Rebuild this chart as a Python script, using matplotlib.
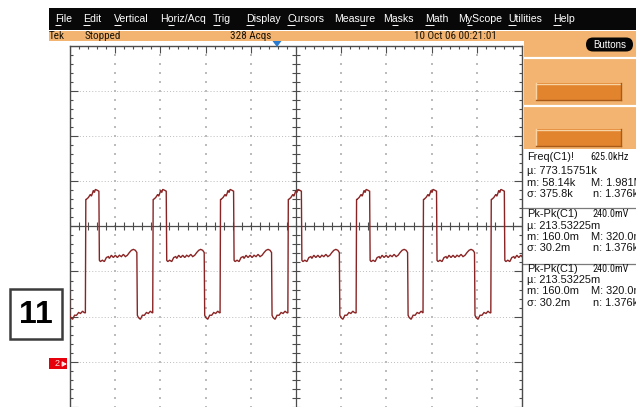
import numpy as np
import matplotlib
matplotlib.use("Agg")
import matplotlib.pyplot as plt
from matplotlib import font_manager as fm
from matplotlib.patches import Rectangle, FancyBboxPatch, Polygon
from matplotlib.collections import LineCollection

# ---------------- waveform data (divisions) ----------------
# one acquired cycle: time after the rising edge, level in divisions
cycle_t = [0.000, 0.010, 0.022, 0.066, 0.111, 0.133, 0.155, 0.177, 0.199, 0.221,
           0.265, 0.299, 0.310, 0.332, 0.376, 0.420, 0.465, 0.509, 0.531, 0.575,
           0.619, 0.664, 0.708, 0.752, 0.796, 0.841, 0.885, 0.929, 0.973, 1.018,
           1.062, 1.106, 1.139, 1.150, 1.173, 1.217, 1.261, 1.305, 1.350, 1.394,
           1.438, 1.471]
cycle_v = [-1.92, 0.60, 0.60, 0.64, 0.71, 0.67, 0.73, 0.80, 0.75, 0.82,
           0.80, 0.78, -0.75, -0.78, -0.75, -0.78, -0.69, -0.67, -0.71, -0.64,
           -0.69, -0.64, -0.69, -0.64, -0.67, -0.62, -0.67, -0.64, -0.58, -0.53,
           -0.51, -0.53, -0.58, -1.97, -2.02, -2.06, -1.97, -1.97, -1.91, -1.93,
           -1.88, -1.91]
# rising-edge times on screen (divisions from centre)
rise_times = [-6.16, -4.66, -3.17, -1.68, -0.18, 1.33, 2.81, 4.31]

# ---------------- screen texts ----------------
menu_items = ["File", "Edit", "Vertical", "Horiz/Acq", "Trig", "Display", "Cursors",
              "Measure", "Masks", "Math", "MyScope", "Utilities", "Help"]
menu_hotkey = [0, 0, 0, 1, 0, 0, 0, 4, 1, 0, 1, 0, 0]
status_texts = ["Tek", "Stopped", "328 Acqs", "10 Oct 06 00:21:01"]
meas_titles = ["Freq(C1)!", "Pk-Pk(C1)", "Pk-Pk(C1)"]
meas_values = ["625.0kHz", "240.0mV", "240.0mV"]
meas_stats = [
    [("\u00b5: 773.15751k", ""), ("m: 58.14k", "M: 1.981M"), ("\u03c3: 375.8k", "n: 1.376k")],
    [("\u00b5: 213.53225m", ""), ("m: 160.0m", "M: 320.0m"), ("\u03c3: 30.2m", "n: 1.376k")],
    [("\u00b5: 213.53225m", ""), ("m: 160.0m", "M: 320.0m"), ("\u03c3: 30.2m", "n: 1.376k")],
]
badge_text = "11"
channel_marker = "2"

# ---------------- layout (pixels) ----------------
W, H, DPI = 636, 407, 100
menu_x = [55, 83, 114, 160, 213, 246, 287, 334, 383, 425, 458, 508, 553]
status_x = [49, 85, 230, 414]
stat_x_left, stat_x_right = 527, [591, 591, 593]
block_y = [[157, 170.5, 182.5, 194], [214, 226, 237, 248], [269, 280, 291.5, 303]]
PX = 1 / 45.2  # one pixel in divisions

SANS = "Liberation Sans"


def narrow_font():
    """Pick a condensed sans face if one is installed."""
    names = {f.name for f in fm.fontManager.ttflist}
    for fam in ("Liberation Sans Narrow", "DejaVu Sans Condensed", "Roboto Condensed",
                "Noto Sans Condensed", "Open Sans Condensed"):
        if fam in names:
            return fm.FontProperties(family=fam)
    for f in fm.fontManager.ttflist:
        if (f.stretch in ("condensed", "semi-condensed") and f.style == "normal"
                and f.weight in (400, "normal", "regular")
                and f.name.startswith(("Liberation", "DejaVu Sans", "Noto Sans", "Roboto",
                                       "Open Sans"))
                and "Mono" not in f.name and "CJK" not in f.name):
            return fm.FontProperties(fname=f.fname)
    return None


NARROW_FP = narrow_font()


def narrow_props(size_narrow, size_plain):
    if NARROW_FP is not None:
        fp = NARROW_FP.copy()
        fp.set_size(size_narrow)
        return fp
    return fm.FontProperties(family=SANS, size=size_plain)


fig = plt.figure(figsize=(W / DPI, H / DPI), dpi=DPI, facecolor="white")

# background layer in pixel coordinates
ui = fig.add_axes([0, 0, 1, 1], zorder=0)
ui.set_xlim(0, W)
ui.set_ylim(H, 0)
ui.axis("off")

ORANGE = "#f2b470"
BTN = "#e2842e"

# menu bar
ui.add_patch(Rectangle((49, 8), W - 49, 22, facecolor="#080808", edgecolor="none"))
renderer = fig.canvas.get_renderer()
menu_fp = fm.FontProperties(family=SANS, size=7.6)
for label, x, k in zip(menu_items, menu_x, menu_hotkey):
    ui.text(x, 19.5, label, color="white", fontproperties=menu_fp, va="center", ha="left")
    x0 = renderer.get_text_width_height_descent(label[:k], menu_fp, ismath=False)[0] if k else 0
    x1 = renderer.get_text_width_height_descent(label[:k + 1], menu_fp, ismath=False)[0]
    ui.plot([x + x0, x + x1], [25.2, 25.2], color="white", lw=0.7, solid_capstyle="butt")

# status bar and right-hand control panel
ui.add_patch(Rectangle((49, 31), W - 49, 9.5, facecolor=ORANGE, edgecolor="none"))
ui.add_patch(Rectangle((524, 31), W - 524, 118, facecolor=ORANGE, edgecolor="none"))
status_fp = narrow_props(8.0, 6.8)
for label, x in zip(status_texts, status_x):
    ui.text(x, 35.8, label, color="#1c1408", fontproperties=status_fp,
            va="center", ha="left")
for y in (58, 106):
    ui.plot([524, W], [y, y], color="white", lw=1.6)
for y in (83, 129):
    ui.add_patch(Rectangle((536, y), 85, 17, facecolor=BTN, edgecolor="none"))
    ui.plot([536, 621], [y + 0.5, y + 0.5], color="#f8d3a4", lw=1.0)
    ui.plot([536, 536], [y, y + 17], color="#f8d3a4", lw=1.0)
    ui.plot([536, 621], [y + 17, y + 17], color="#a85a16", lw=1.0)
    ui.plot([621, 621], [y, y + 17], color="#a85a16", lw=1.0)
ui.add_patch(FancyBboxPatch((586, 37.5), 47, 14, boxstyle="round,pad=0,rounding_size=7",
                            facecolor="#050505", edgecolor="none"))
ui.text(609.5, 44.6, "Buttons", color="white", family=SANS, fontsize=7.0,
        va="center", ha="center")

# measurement readouts
meas_fp = fm.FontProperties(family=SANS, size=7.9)
value_fp = narrow_props(7.4, 6.8)
INK = "#141414"
for title, value, stats, ys in zip(meas_titles, meas_values, meas_stats, block_y):
    ui.text(stat_x_left, ys[0], title, color=INK, fontproperties=meas_fp, va="center")
    ui.text(629, ys[0], value, color=INK, fontproperties=value_fp, va="center", ha="right")
    for (left, right), y, xr in zip(stats, ys[1:], stat_x_right):
        ui.text(stat_x_left, y, left, color=INK, fontproperties=meas_fp, va="center")
        if right:
            ui.text(xr, y, right, color=INK, fontproperties=meas_fp, va="center")
for y in (207.5, 263.5):
    ui.plot([523, W], [y, y], color="#7a7a7a", lw=0.9)

# ---------------- graticule ----------------
top_px, bottom_px = 46, 46 + 8.2 * 45.1
ax = fig.add_axes([70 / W, (H - bottom_px) / H, 452 / W, (bottom_px - top_px) / H], zorder=1)
ax.set_xlim(-5, 5)
ax.set_ylim(-4.2, 4)
ax.axis("off")
ax.patch.set_alpha(0)

GRID = "#bcbcbc"
FRAME = "#4c4c4c"
minor_x = np.round(np.arange(-5, 5.001, 0.2), 3)
minor_y = np.round(np.arange(-4.2, 4.001, 0.2), 3)

# dotted division lines
for gx in range(-4, 5):
    if gx != 0:
        ax.scatter(np.full(minor_y.size, gx), minor_y, s=0.9, marker="s", color=GRID,
                   linewidths=0)
for gy in range(-4, 4):
    if gy != 0:
        ax.plot([-5, 5], [gy, gy], color=GRID, lw=0.7, linestyle=(0, (1, 2.2)))

segs = []
for x in minor_x:
    major = abs(x - round(x)) < 1e-6
    L = (7 if major else 3) * PX
    segs.append([(x, 4), (x, 4 - L)])                 # top ruler
    segs.append([(x, -4 * PX), (x, 4 * PX)])          # centre horizontal
for y in minor_y:
    major = abs(y - round(y)) < 1e-6
    L = (8 if major else 3) * PX
    segs.append([(-5, y), (-5 + L, y)])               # left edge
    segs.append([(5, y), (5 - L, y)])                 # right edge
    segs.append([(-4 * PX, y), (4 * PX, y)])          # centre vertical
ax.add_collection(LineCollection(segs, colors=FRAME, linewidths=0.8))
ax.plot([-5, 5], [0, 0], color=FRAME, lw=0.9)
ax.plot([0, 0], [-4.2, 4], color=FRAME, lw=0.9)
ax.plot([-5, 5], [4, 4], color=FRAME, lw=1.0, clip_on=False)
ax.plot([-5, -5], [-4.2, 4], color=FRAME, lw=1.0, clip_on=False)
ax.plot([5, 5], [-4.2, 4], color=FRAME, lw=1.0, clip_on=False)

# channel trace
trace_t = np.concatenate([r + np.asarray(cycle_t) for r in rise_times])
trace_v = np.tile(np.asarray(cycle_v), len(rise_times))
ax.plot(trace_t, trace_v, color="#8a2424", lw=1.0, solid_joinstyle="miter")

# ---------------- overlay markers ----------------
fg = fig.add_axes([0, 0, 1, 1], zorder=2)
fg.set_xlim(0, W)
fg.set_ylim(H, 0)
fg.axis("off")
fg.patch.set_alpha(0)

fg.add_patch(Polygon([(272.5, 41), (281.5, 41), (277, 47)], closed=True,
                     facecolor="#2a7ad0", edgecolor="none"))
fg.add_patch(Rectangle((49, 358), 18, 11, facecolor="#e6000c", edgecolor="none"))
fg.text(57, 363.8, channel_marker, color="#ffe0e0", family=SANS, fontsize=6.5,
        va="center", ha="center")
fg.annotate("", xy=(69.5, 364), xytext=(62, 364),
            arrowprops=dict(arrowstyle="-|>,head_length=0.25,head_width=0.15",
                            color="#ffe8e8", lw=0.8))
fg.add_patch(Rectangle((10, 289), 52, 50, facecolor="white", edgecolor="#3c3c3c", lw=1.8))
fg.text(36, 315, badge_text, color="black", family=SANS, weight="bold", fontsize=23,
        va="center", ha="center")

fig.savefig("out.png", dpi=DPI, facecolor="white")
